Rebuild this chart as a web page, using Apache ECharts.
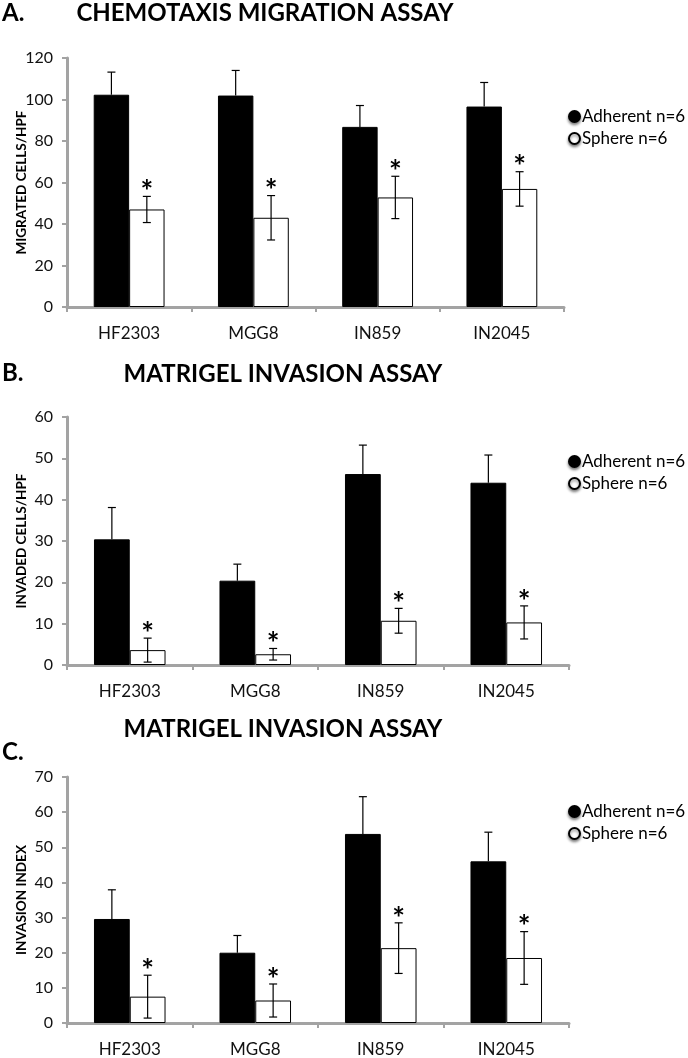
<!DOCTYPE html>
<html>
<head>
<meta charset="utf-8">
<script src="https://cdn.jsdelivr.net/npm/echarts@6/dist/echarts.min.js"></script>
<style>
  html, body { margin: 0; padding: 0; background: #fff; }
  #chart { width: 688px; height: 1058px; }
</style>
</head>
<body>
<div id="chart"></div>
<script>
// cell lines on the x axis (same for all three panels)
const categories = ['HF2303', 'MGG8', 'IN859', 'IN2045']

// A. chemotaxis migration assay
const migAdherent = [102.3, 101.9, 86.8, 96.6]
const migAdherentErr = [10.9, 12.1, 10.3, 11.6]
const migSphere = [47.0, 43.0, 52.8, 56.9]
const migSphereErr = [6.3, 10.7, 10.2, 8.3]

// B. matrigel invasion assay (cells/HPF)
const invAdherent = [30.4, 20.4, 46.2, 44.1]
const invAdherentErr = [7.7, 4.0, 7.0, 6.7]
const invSphere = [3.6, 2.6, 10.7, 10.3]
const invSphereErr = [2.9, 1.4, 3.0, 4.0]

// C. matrigel invasion assay (index)
const idxAdherent = [29.6, 20.0, 53.8, 46.0]
const idxAdherentErr = [8.3, 4.9, 10.6, 8.3]
const idxSphere = [7.5, 6.4, 21.3, 18.5]
const idxSphereErr = [6.1, 4.7, 7.2, 7.5]

const FONT = 'Lato'
const GAP = 0.43
const AXIS_GREY = '#a3a3a3'

const chart = echarts.init(document.getElementById('chart'))

const panels = [
  { letter: 'A.', title: 'CHEMOTAXIS MIGRATION ASSAY', yName: 'MIGRATED CELLS/HPF',
    adh: migAdherent, adhErr: migAdherentErr, sph: migSphere, sphErr: migSphereErr,
    max: 120, interval: 20,
    grid: { left: 67, top: 58, width: 497, height: 249 },
    titlePos: [265, 1], letterPos: [2, 1], legendTop: 103 },
  { letter: 'B.', title: 'MATRIGEL INVASION ASSAY', yName: 'INVADED CELLS/HPF',
    adh: invAdherent, adhErr: invAdherentErr, sph: invSphere, sphErr: invSphereErr,
    max: 60, interval: 10,
    grid: { left: 67, top: 417, width: 502, height: 248 },
    titlePos: [283, 362], letterPos: [2, 361], legendTop: 448 },
  { letter: 'C.', title: 'MATRIGEL INVASION ASSAY', yName: 'INVASION INDEX',
    adh: idxAdherent, adhErr: idxAdherentErr, sph: idxSphere, sphErr: idxSphereErr,
    max: 70, interval: 10,
    grid: { left: 67, top: 777, width: 502, height: 248 },
    titlePos: [283, 717], letterPos: [2, 740], legendTop: 798 }
]

// error bar drawn over one of the two bars in a category
function errorBar(side, upperOnly, star) {
  return function (params, api) {
    const i = api.value(0)
    const v = api.value(1)
    const e = api.value(2)
    const bw = api.size([1, 0])[0] * (1 - GAP) / 2
    const base = api.coord([i, v])
    const x = base[0] + side * bw / 2
    const yTop = api.coord([i, v + e])[1]
    const yBot = upperOnly ? base[1] : api.coord([i, v - e])[1]
    const style = { stroke: '#000', lineWidth: 1.2 }
    const children = [
      { type: 'line', shape: { x1: x, y1: yTop, x2: x, y2: yBot }, style },
      { type: 'line', shape: { x1: x - 4, y1: yTop, x2: x + 4, y2: yTop }, style }
    ]
    if (!upperOnly) {
      children.push({ type: 'line', shape: { x1: x - 4, y1: yBot, x2: x + 4, y2: yBot }, style })
    }
    if (star) {
      children.push({
        type: 'text',
        style: {
          text: '*', x: x, y: yTop + 11, align: 'center', verticalAlign: 'bottom',
          font: 'bold 30px ' + FONT, fill: '#000'
        }
      })
    }
    return { type: 'group', children }
  }
}

const title = []
const grid = []
const xAxis = []
const yAxis = []
const legend = []
const series = []

panels.forEach((p, k) => {
  title.push({
    text: p.title, left: p.titlePos[0], top: p.titlePos[1], textAlign: 'center', padding: 0,
    textStyle: { fontFamily: FONT, fontWeight: 'bold', fontSize: 24, color: '#000' }
  })
  title.push({
    text: p.letter, left: p.letterPos[0], top: p.letterPos[1], padding: 0,
    textStyle: { fontFamily: FONT, fontWeight: 'bold', fontSize: 24, color: '#000' }
  })
  grid.push(p.grid)
  xAxis.push({
    type: 'category', gridIndex: k, data: categories,
    axisLine: { lineStyle: { color: AXIS_GREY, width: 3 } },
    axisTick: { show: true, length: 5, lineStyle: { color: AXIS_GREY, width: 2 } },
    axisLabel: { fontFamily: FONT, fontSize: 17, color: '#111', margin: 18 }
  })
  yAxis.push({
    type: 'value', gridIndex: k, min: 0, max: p.max, interval: p.interval,
    name: p.yName, nameLocation: 'middle', nameGap: 38, nameRotate: 90,
    nameMoveOverlap: false,
    nameTextStyle: { fontFamily: FONT, fontWeight: 'bold', fontSize: 13.5, color: '#000' },
    splitLine: { show: false },
    axisLine: { show: true, lineStyle: { color: AXIS_GREY, width: 3 } },
    axisTick: { show: true, length: 5, lineStyle: { color: AXIS_GREY, width: 2 } },
    axisLabel: { fontFamily: FONT, fontSize: 16, color: '#111', margin: 14 }
  })
  legend.push({
    orient: 'vertical', left: 563, top: p.legendTop, itemGap: 5,
    itemWidth: 11, itemHeight: 11, icon: 'circle',
    data: ['Adherent n=6', 'Sphere n=6'],
    itemStyle: { shadowColor: 'rgba(0,0,0,0.45)', shadowBlur: 3, shadowOffsetY: 2 },
    textStyle: { fontFamily: FONT, fontSize: 17, color: '#000', padding: [0, 0, 0, -3] }
  })
  series.push({
    name: 'Adherent n=6', type: 'bar', xAxisIndex: k, yAxisIndex: k,
    data: p.adh, barGap: '0%', barCategoryGap: (GAP * 100) + '%',
    itemStyle: { color: '#000', borderColor: '#000', borderWidth: 1 }
  })
  series.push({
    name: 'Sphere n=6', type: 'bar', xAxisIndex: k, yAxisIndex: k,
    data: p.sph, barGap: '0%', barCategoryGap: (GAP * 100) + '%',
    itemStyle: { color: '#fff', borderColor: '#000', borderWidth: 1 }
  })
  series.push({
    type: 'custom', xAxisIndex: k, yAxisIndex: k, z: 5,
    renderItem: errorBar(-1, true, false),
    data: p.adh.map((v, i) => [i, v, p.adhErr[i]])
  })
  series.push({
    type: 'custom', xAxisIndex: k, yAxisIndex: k, z: 5,
    renderItem: errorBar(1, false, true),
    data: p.sph.map((v, i) => [i, v, p.sphErr[i]])
  })
})

chart.setOption({
  animation: false,
  backgroundColor: '#fff',
  title, grid, xAxis, yAxis, legend, series
})
</script>
</body>
</html>
